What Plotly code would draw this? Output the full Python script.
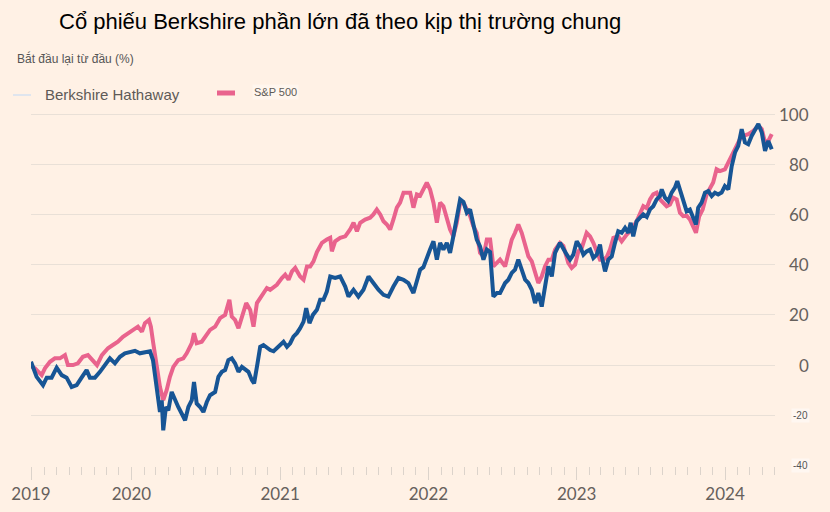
import pandas as pd
import plotly.graph_objects as go

# ---------------- data (decimal years, % change since start) ----------------
BRK_T = [2019.323, 2019.361, 2019.404, 2019.429, 2019.462, 2019.496, 2019.530, 2019.563, 2019.597, 2019.631,
         2019.664, 2019.698, 2019.720, 2019.754, 2019.788, 2019.821, 2019.855, 2019.889, 2019.923, 2019.956,
         2019.990, 2020.024, 2020.057, 2020.091, 2020.125, 2020.145, 2020.170, 2020.181, 2020.192, 2020.204,
         2020.214, 2020.232, 2020.248, 2020.271, 2020.293, 2020.315, 2020.338, 2020.361, 2020.383, 2020.406,
         2020.421, 2020.439, 2020.462, 2020.484, 2020.507, 2020.529, 2020.563, 2020.585, 2020.608, 2020.630,
         2020.652, 2020.675, 2020.697, 2020.720, 2020.743, 2020.765, 2020.787, 2020.810, 2020.825, 2020.848,
         2020.866, 2020.888, 2020.911, 2020.933, 2020.956, 2020.978, 2021.001, 2021.023, 2021.046, 2021.068,
         2021.090, 2021.113, 2021.135, 2021.158, 2021.176, 2021.198, 2021.221, 2021.248, 2021.270, 2021.292,
         2021.315, 2021.338, 2021.371, 2021.405, 2021.439, 2021.461, 2021.495, 2021.528, 2021.562, 2021.596,
         2021.629, 2021.663, 2021.697, 2021.730, 2021.764, 2021.798, 2021.832, 2021.865, 2021.899, 2021.922,
         2021.944, 2021.966, 2021.989, 2022.011, 2022.034, 2022.057, 2022.079, 2022.101, 2022.124, 2022.146,
         2022.168, 2022.191, 2022.214, 2022.236, 2022.259, 2022.281, 2022.303, 2022.326, 2022.348, 2022.371,
         2022.394, 2022.416, 2022.438, 2022.461, 2022.483, 2022.517, 2022.539, 2022.562, 2022.584, 2022.606,
         2022.629, 2022.652, 2022.674, 2022.697, 2022.719, 2022.741, 2022.764, 2022.786, 2022.809, 2022.832,
         2022.854, 2022.887, 2022.910, 2022.933, 2022.955, 2022.977, 2023.000, 2023.022, 2023.045, 2023.067,
         2023.090, 2023.112, 2023.135, 2023.157, 2023.169, 2023.191, 2023.213, 2023.236, 2023.258, 2023.280,
         2023.303, 2023.326, 2023.348, 2023.364, 2023.381, 2023.404, 2023.427, 2023.449, 2023.472, 2023.494,
         2023.516, 2023.539, 2023.561, 2023.573, 2023.595, 2023.617, 2023.640, 2023.662, 2023.678, 2023.696,
         2023.718, 2023.741, 2023.763, 2023.786, 2023.804, 2023.819, 2023.842, 2023.865, 2023.887, 2023.910,
         2023.932, 2023.954, 2023.977, 2023.999, 2024.022, 2024.045, 2024.067, 2024.089, 2024.112, 2024.134,
         2024.156, 2024.179, 2024.202, 2024.224, 2024.247, 2024.269, 2024.291, 2024.314]
BRK_V = [1.3, -4.7, -8.0, -5.0, -5.0, -1.0, -4.0, -5.0, -8.7, -8.0,
         -5.0, -2.0, -5.0, -5.0, -2.7, 0.0, 2.7, 0.7, 3.3, 4.7,
         5.3, 5.7, 4.7, 5.3, 5.5, 2.0, -8.7, -14.0, -18.7, -14.0,
         -26.0, -16.7, -18.0, -10.7, -14.0, -16.7, -19.3, -22.0, -16.7, -14.0,
         -6.7, -15.3, -16.7, -18.7, -14.7, -12.0, -10.7, -4.7, -2.7, -2.0,
         2.0, 2.7, 0.7, -2.7, -0.7, -1.5, -2.7, -6.0, -7.3, 0.7,
         7.3, 8.0, 6.7, 6.0, 5.5, 6.7, 8.0, 9.3, 7.3, 8.7,
         11.3, 12.7, 14.7, 17.3, 22.7, 16.7, 20.0, 22.0, 26.0, 26.0,
         29.3, 35.3, 34.7, 35.3, 31.3, 27.3, 30.0, 27.3, 30.0, 35.3,
         32.7, 30.0, 28.0, 27.3, 31.3, 34.7, 34.0, 32.7, 28.7, 34.0,
         38.0, 39.0, 43.0, 46.0, 49.3, 42.0, 48.7, 46.0, 48.7, 44.7,
         51.3, 58.0, 66.0, 65.0, 60.7, 62.0, 56.7, 50.0, 47.3, 42.0,
         46.0, 45.0, 27.3, 28.7, 28.7, 32.7, 34.0, 36.7, 38.0, 42.0,
         38.0, 34.0, 32.7, 30.0, 24.7, 28.7, 23.3, 31.3, 39.3, 35.3,
         44.7, 48.7, 46.0, 44.0, 42.0, 44.0, 49.3, 47.3, 44.0, 45.3,
         46.0, 42.7, 44.0, 48.0, 43.3, 37.3, 42.0, 43.3, 48.7, 53.3,
         52.7, 54.7, 52.7, 56.7, 51.3, 57.3, 58.7, 60.0, 59.0, 62.0,
         63.3, 66.0, 67.3, 70.0, 66.7, 65.3, 68.7, 70.7, 73.3, 70.0,
         66.0, 61.3, 62.0, 58.7, 56.0, 62.7, 64.7, 68.7, 69.3, 67.3,
         68.7, 68.0, 68.7, 71.3, 70.0, 79.3, 84.7, 87.3, 94.0, 88.7,
         88.0, 91.3, 94.0, 96.0, 92.7, 85.3, 89.3, 86.0]

SPX_T = [2019.323, 2019.350, 2019.395, 2019.417, 2019.451, 2019.484, 2019.518, 2019.552, 2019.572, 2019.606,
         2019.639, 2019.673, 2019.707, 2019.741, 2019.768, 2019.801, 2019.842, 2019.875, 2019.909, 2019.943,
         2019.976, 2020.010, 2020.044, 2020.071, 2020.091, 2020.118, 2020.131, 2020.147, 2020.170, 2020.192,
         2020.214, 2020.237, 2020.259, 2020.282, 2020.315, 2020.349, 2020.372, 2020.406, 2020.421, 2020.439,
         2020.473, 2020.495, 2020.529, 2020.563, 2020.596, 2020.630, 2020.659, 2020.675, 2020.697, 2020.720,
         2020.743, 2020.772, 2020.799, 2020.821, 2020.844, 2020.877, 2020.911, 2020.933, 2020.956, 2020.978,
         2021.012, 2021.034, 2021.057, 2021.080, 2021.102, 2021.135, 2021.158, 2021.181, 2021.203, 2021.225,
         2021.248, 2021.282, 2021.315, 2021.338, 2021.349, 2021.371, 2021.405, 2021.439, 2021.472, 2021.495,
         2021.518, 2021.540, 2021.573, 2021.607, 2021.629, 2021.652, 2021.675, 2021.697, 2021.720, 2021.742,
         2021.764, 2021.787, 2021.809, 2021.832, 2021.854, 2021.877, 2021.899, 2021.922, 2021.944, 2021.966,
         2021.989, 2022.011, 2022.034, 2022.057, 2022.079, 2022.101, 2022.124, 2022.146, 2022.168, 2022.191,
         2022.214, 2022.236, 2022.259, 2022.281, 2022.303, 2022.326, 2022.348, 2022.371, 2022.394, 2022.416,
         2022.438, 2022.461, 2022.483, 2022.517, 2022.539, 2022.562, 2022.584, 2022.606, 2022.629, 2022.652,
         2022.674, 2022.697, 2022.719, 2022.741, 2022.764, 2022.786, 2022.809, 2022.832, 2022.854, 2022.887,
         2022.910, 2022.943, 2022.966, 2022.989, 2023.011, 2023.034, 2023.067, 2023.090, 2023.112, 2023.135,
         2023.157, 2023.179, 2023.202, 2023.224, 2023.247, 2023.280, 2023.303, 2023.337, 2023.371, 2023.404,
         2023.427, 2023.449, 2023.472, 2023.494, 2023.516, 2023.539, 2023.561, 2023.584, 2023.606, 2023.629,
         2023.651, 2023.674, 2023.696, 2023.718, 2023.741, 2023.763, 2023.786, 2023.804, 2023.826, 2023.849,
         2023.876, 2023.898, 2023.920, 2023.943, 2023.966, 2023.999, 2024.033, 2024.067, 2024.100, 2024.123,
         2024.156, 2024.190, 2024.224, 2024.247, 2024.269, 2024.291, 2024.314]
SPX_V = [-0.5, -1.3, -4.0, -1.3, 1.3, 2.7, 2.7, 4.0, 0.0, 0.0,
         0.7, 3.3, 4.0, 2.0, 0.0, 4.0, 6.7, 8.0, 9.3, 11.3,
         12.7, 14.0, 15.3, 13.3, 16.7, 18.0, 15.3, 8.7, -0.7, -8.7,
         -14.0, -10.0, -4.7, -0.7, 2.0, 2.7, 4.7, 8.7, 12.7, 8.7,
         9.3, 11.3, 14.0, 15.3, 18.7, 20.0, 26.0, 19.3, 18.0, 14.7,
         19.3, 24.7, 22.0, 15.3, 24.7, 28.0, 30.7, 30.0, 31.0, 32.0,
         34.7, 36.0, 34.0, 37.3, 38.7, 35.3, 34.0, 39.3, 39.3, 41.3,
         45.0, 48.7, 50.0, 50.7, 45.3, 49.3, 50.7, 51.3, 54.0, 56.7,
         53.3, 56.7, 58.0, 58.7, 60.0, 62.0, 60.0, 57.3, 56.0, 54.0,
         58.0, 62.7, 64.7, 68.7, 68.7, 68.7, 62.7, 68.0, 67.5, 70.0,
         72.7, 70.0, 64.7, 56.7, 64.7, 63.3, 58.0, 54.0, 51.3, 56.7,
         64.7, 64.7, 62.0, 59.3, 55.3, 52.7, 44.7, 43.3, 50.0, 50.0,
         39.3, 40.7, 42.0, 39.3, 44.7, 50.0, 52.7, 56.0, 52.7, 47.3,
         43.3, 41.3, 36.7, 32.7, 35.3, 39.3, 42.0, 42.0, 46.0, 48.7,
         47.5, 40.7, 38.7, 40.0, 45.3, 46.7, 52.7, 51.3, 48.7, 44.7,
         42.0, 42.0, 43.0, 46.0, 50.7, 51.3, 49.3, 52.0, 54.0, 57.3,
         60.7, 63.3, 62.5, 66.0, 68.0, 68.7, 66.0, 64.7, 63.3, 64.0,
         66.7, 66.0, 60.7, 59.3, 59.5, 58.0, 55.3, 52.7, 59.3, 62.0,
         68.0, 70.0, 72.7, 78.0, 77.3, 78.0, 82.0, 86.0, 90.0, 91.3,
         92.0, 93.3, 95.3, 94.0, 88.7, 89.3, 92.0]

Y_TICKS_MAIN = [100, 80, 60, 40, 20, 0]
Y_TICKS_SMALL = [-20, -40]
X_TICK_YEARS = [2019.323, 2020, 2021, 2022, 2023, 2024]
X_TICK_LABELS = ["2019", "2020", "2021", "2022", "2023", "2024"]
X_RANGE = [2019.323, 2024.336]
Y_RANGE = [-40.2, 105.6]

TITLE = "Cổ phiếu Berkshire phần lớn đã theo kịp thị trường chung"
SUBTITLE = "Bắt đầu lại từ đầu (%)"
NAMES = ["Berkshire Hathaway", "S&P 500"]


def dec_to_date(t):
    y = int(t)
    start = pd.Timestamp(year=y, month=1, day=1)
    end = pd.Timestamp(year=y + 1, month=1, day=1)
    return start + (end - start) * (t - y)


BLUE = "#175595"
PINK = "#e9638d"
BG = "#fff1e5"
GRID = "#e9e0d7"
TXT = "#66605c"

# plot area in pixels
L, R, T, B = 31, 775, 100, 466
W, H = 830, 512


def px(x):
    return (x - L) / (R - L)


def py(y):
    return (B - y) / (B - T)


fig = go.Figure()
fig.add_trace(go.Scatter(x=[dec_to_date(t) for t in SPX_T], y=SPX_V, mode="lines",
                         line=dict(color=PINK, width=4), name=NAMES[1], hoverinfo="skip"))
fig.add_trace(go.Scatter(x=[dec_to_date(t) for t in BRK_T], y=BRK_V, mode="lines",
                         line=dict(color=BLUE, width=4), name=NAMES[0], hoverinfo="skip"))

ann = []
ann.append(dict(text=TITLE, xref="paper", yref="paper", x=px(57), y=py(21), xanchor="left",
                yanchor="middle", showarrow=False,
                font=dict(family="Liberation Sans, Arial", size=22, color="#000000")))
ann.append(dict(text=SUBTITLE, xref="paper", yref="paper", x=px(15), y=py(58), xanchor="left",
                yanchor="middle", showarrow=False,
                font=dict(family="Liberation Sans, Arial", size=12, color="#555555")))
ann.append(dict(text=NAMES[0], xref="paper", yref="paper", x=px(43), y=py(94), xanchor="left",
                yanchor="middle", showarrow=False,
                font=dict(family="Liberation Sans, Arial", size=15, color="#5e5a57")))
ann.append(dict(text=NAMES[1], xref="paper", yref="paper", x=px(252), y=py(92), xanchor="left",
                yanchor="middle", showarrow=False, bgcolor="rgba(255,255,255,0.35)",
                font=dict(family="Liberation Sans, Arial", size=11, color="#5e5a57")))
for v in Y_TICKS_MAIN:
    ann.append(dict(text=str(v), xref="paper", yref="y", x=px(811), y=v, xanchor="right",
                    yanchor="middle", showarrow=False,
                    font=dict(family="Lato, Open Sans", size=17, color=TXT)))
for v in Y_TICKS_SMALL:
    ann.append(dict(text=str(v), xref="paper", yref="y", x=px(810), y=v, xanchor="right",
                    yanchor="middle", showarrow=False, bgcolor="rgba(255,255,255,0.45)",
                    font=dict(family="Liberation Sans, Arial", size=10, color="#555555")))

shapes = [
    dict(type="line", xref="paper", yref="paper", x0=px(13), x1=px(31), y0=py(95), y1=py(95),
         line=dict(color="#dfe5ee", width=2)),
    dict(type="line", xref="paper", yref="paper", x0=px(217), x1=px(235), y0=py(93), y1=py(93),
         line=dict(color=PINK, width=5)),
]

fig.update_layout(
    width=W, height=H,
    margin=dict(l=L, r=W - R, t=T, b=H - B, pad=0, autoexpand=False),
    paper_bgcolor=BG, plot_bgcolor=BG,
    showlegend=False,
    annotations=ann,
    shapes=shapes,
    xaxis=dict(
        type="date",
        automargin=False,
        range=[dec_to_date(X_RANGE[0]), dec_to_date(X_RANGE[1])],
        tickmode="array",
        tickvals=[dec_to_date(t) for t in X_TICK_YEARS],
        ticktext=X_TICK_LABELS,
        ticks="outside", ticklen=13, tickcolor="#dcd3cb", tickwidth=1,
        tickfont=dict(family="Lato, Open Sans", size=17, color=TXT),
        showgrid=False, zeroline=False, showline=False,
        minor=dict(ticks="outside", dtick="M1", tick0="2019-05-01", ticklen=8,
                   tickcolor="#dcd3cb", tickwidth=1, showgrid=False),
        fixedrange=True,
    ),
    yaxis=dict(
        automargin=False,
        range=Y_RANGE,
        tickmode="array",
        tickvals=Y_TICKS_MAIN + Y_TICKS_SMALL,
        showticklabels=False,
        showgrid=True, gridcolor=GRID, gridwidth=1,
        zeroline=False, showline=False, ticks="",
        fixedrange=True,
    ),
)

fig.write_html("out.html",
               config={"displayModeBar": False},
               post_script="document.body.style.margin='0';document.body.style.background='%s';" % BG)
